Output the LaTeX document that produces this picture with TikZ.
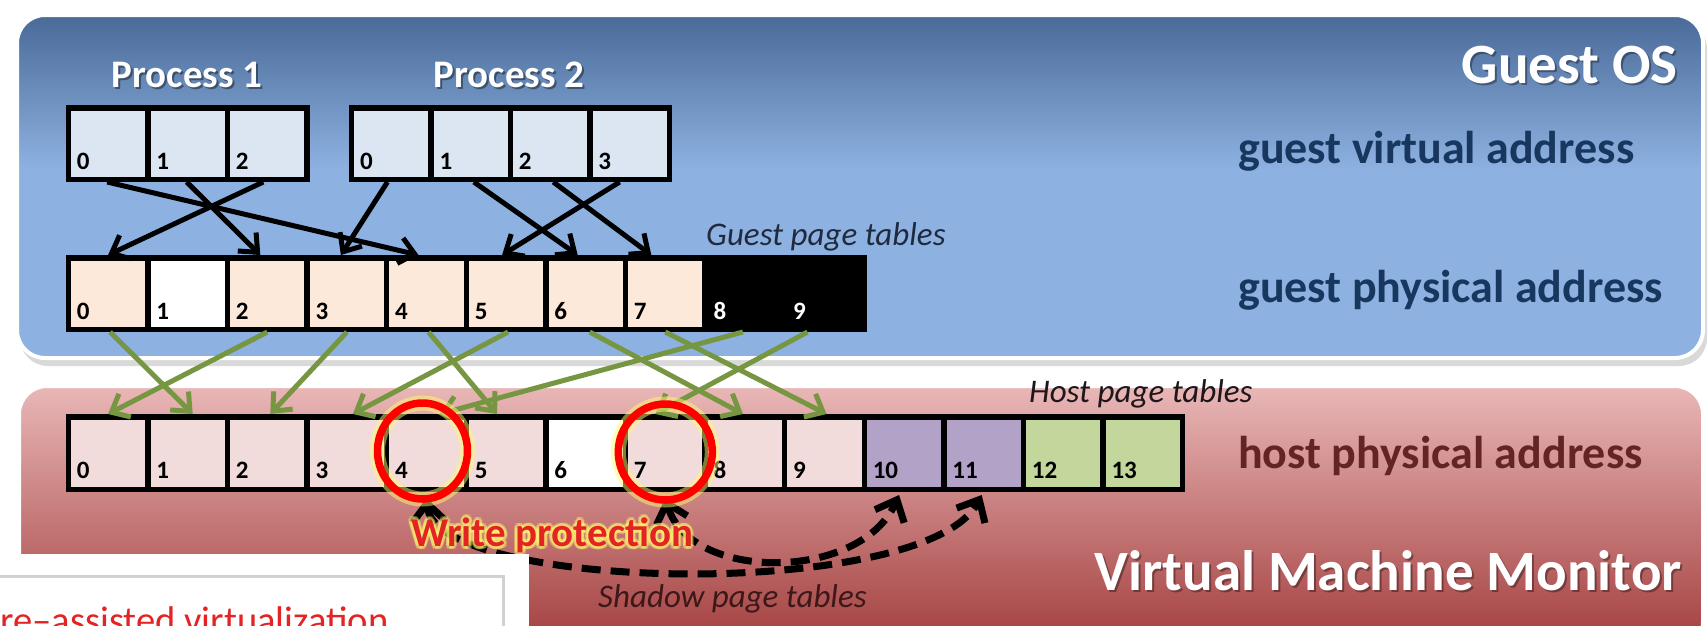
\documentclass[tikz,border=0pt]{standalone}
\usepackage{fontspec}
\setmainfont{Carlito}
\usetikzlibrary{arrows.meta}
\newcommand\myfs[1]{\fontsize{#1pt}{#1pt}\selectfont}
\definecolor{vcell}{RGB}{220,230,242}
\definecolor{gcell}{RGB}{253,233,217}
\definecolor{hcell}{RGB}{242,220,219}
\definecolor{hpurple}{RGB}{179,162,199}
\definecolor{hgreen}{RGB}{195,214,155}
\definecolor{arrgreen}{RGB}{118,150,66}
\definecolor{navytxt}{RGB}{23,55,94}
\definecolor{maroontxt}{RGB}{99,37,35}
\definecolor{bluedark}{RGB}{74,106,152}
\definecolor{bluelight}{RGB}{141,178,225}
\definecolor{pinktop}{RGB}{233,183,183}
\definecolor{pinkmid}{RGB}{218,150,150}
\definecolor{pinkbot}{RGB}{162,60,60}
\definecolor{redtxt}{RGB}{228,36,36}
\definecolor{glowyel}{RGB}{255,250,110}
\begin{document}
\begin{tikzpicture}[x=1pt,y=-1pt,
  cellbox/.style={draw=black,line width=5.5pt,minimum width=79.6pt,inner sep=0pt},
  num/.style={font=\bfseries\myfs{25},inner sep=0pt,anchor=base west},
  barrow/.style={line width=5pt,-{Straight Barb[length=15pt,width=26pt]}},
  garrow/.style={barrow,draw=arrgreen},
  darrow/.style={line width=7pt,dash pattern=on 19pt off 10pt,
     {Straight Barb[length=18pt,width=32pt]}-{Straight Barb[length=18pt,width=32pt]}},
  whitelbl/.style={inner sep=0pt,text=white,font=\bfseries\myfs{57}},
  shadowlbl/.style={inner sep=0pt,text=black,opacity=0.35,font=\bfseries\myfs{57}},
  proclbl/.style={inner sep=0pt,font=\bfseries\myfs{39},anchor=base},
  addrlbl/.style={inner sep=0pt,font=\bfseries\myfs{46},anchor=base west},
  itlbl/.style={inner sep=0pt,font=\itshape\myfs{33},anchor=base west},
  wplbl/.style={inner sep=0pt,font=\bfseries\myfs{41},anchor=base west},
  ringglow/.style={draw=glowyel,line width=15pt,opacity=0.5},
  ring/.style={draw=red,line width=7.5pt}
]
\useasboundingbox (0,0) rectangle (1708,625);
\clip (0,0) rectangle (1708,625);
\fill[white] (0,0) rectangle (1708,625);

% ---------- Guest OS panel ----------
\fill[black,opacity=0.15,rounded corners=28pt] (20,21) rectangle (1707,366);
\fill[bluelight,rounded corners=28pt] (17,15) rectangle (1703,358);
\begin{scope}
  \clip[rounded corners=28pt] (17,15) rectangle (1703,358);
  \shade[top color=bluedark,bottom color=bluelight] (17,15) rectangle (1703,170);
\end{scope}
\draw[white,line width=4pt,rounded corners=28pt] (17,15) rectangle (1703,358);

% ---------- VMM panel ----------
\shade[top color=pinktop,middle color=pinkmid,bottom color=pinkbot,rounded corners=28pt]
  (19,386) rectangle (1703,650);
\draw[white,line width=4pt,rounded corners=28pt] (19,386) rectangle (1703,650);

% ---------- rows ----------
\foreach \i in {0,1,2}
  \node[cellbox,fill=vcell,minimum height=71.5pt] (p1c\i) at ({68.3+(\i+0.5)*79.6},143.5) {};
\foreach \i in {0,1,2}
  \node[num] (p1n\i) at ([shift={(11pt,13pt)}]p1c\i.south west) {\i};
\foreach \i in {0,1,2,3}
  \node[cellbox,fill=vcell,minimum height=71.5pt] (p2c\i) at ({351.75+(\i+0.5)*79.4},143.5) {};
\foreach \i in {0,1,2,3}
  \node[num] (p2n\i) at ([shift={(11pt,13pt)}]p2c\i.south west) {\i};

\foreach \i/\c in {0/gcell,1/white,2/gcell,3/gcell,4/gcell,5/gcell,6/gcell,7/gcell,8/black,9/black}
  \node[cellbox,fill=\c,minimum height=71.5pt] (g\i) at ({68.3+(\i+0.5)*79.6},293.5) {};
\foreach \i/\t in {0/black,1/black,2/black,3/black,4/black,5/black,6/black,7/black,8/white,9/white}
  \node[num,text=\t] (gn\i) at ([shift={(11pt,13pt)}]g\i.south west) {\i};

\foreach \i/\c in {0/hcell,1/hcell,2/hcell,3/hcell,4/hcell,5/hcell,6/white,7/hcell,
                   8/hcell,9/hcell,10/hpurple,11/hpurple,12/hgreen,13/hgreen}
  \node[cellbox,fill=\c,minimum height=72.5pt] (h\i) at ({68.3+(\i+0.5)*79.6},453) {};
\foreach \i in {0,...,13}
  \node[num] (hn\i) at ([shift={(11pt,13.5pt)}]h\i.south west) {\i};

% ---------- guest page tables (black) ----------
\draw[barrow] ([xshift=-1pt]p1c0.south) -- ([xshift=-8pt]g4.north);
\draw[barrow] ([xshift=-1pt]p1c1.south) -- ([xshift=-7pt]g2.north);
\draw[barrow] ([xshift=-4pt]p1c2.south) -- (g0.north);
\draw[barrow] ([xshift=-4pt]p2c0.south) -- ([xshift=-6pt]g3.north);
\draw[barrow] ([xshift=3pt]p2c1.south) -- ([xshift=-8pt]g6.north);
\draw[barrow] ([xshift=3pt]p2c2.south) -- ([xshift=-14pt]g7.north);
\draw[barrow] ([xshift=-10pt]p2c3.south) -- ([xshift=-4pt]g5.north);

% ---------- host page tables (green) ----------
\draw[garrow] ([xshift=2pt]g0.south) -- ([xshift=5pt]h1.north);
\draw[garrow] (g2.south) -- (h0.north);
\draw[garrow] (g3.south) -- ([xshift=3pt]h2.north);
\draw[garrow] ([xshift=2pt]g4.south) -- ([xshift=-9pt]h5.north);
\draw[garrow] ([xshift=2pt]g5.south) -- ([xshift=6pt]h3.north);
\draw[garrow] ([xshift=4pt]g6.south) -- ([xshift=-2pt]h8.north);
\draw[garrow] (g7.south) -- ([xshift=2pt]h9.north);
\draw[garrow] ([xshift=-2pt]g8.south) -- ([xshift=13pt]h4.north);
\draw[garrow] ([xshift=-17pt]g9.south) -- ([xshift=-10pt]h7.north);

% ---------- shadow page tables (dashed) ----------
\draw[darrow] ([yshift=-6pt]h4.south) .. controls (435,592) and (925,602) .. ([xshift=-2pt,yshift=-3pt]h11.south);
\draw[darrow] ([yshift=-6pt]h7.south) .. controls (690,582) and (860,582) .. ([xshift=-5pt,yshift=-3pt]h10.south);

% ---------- write protection rings ----------
\draw[ringglow] ([xshift=-4pt,yshift=2pt]h4.center) ellipse [x radius=45pt,y radius=48pt];
\draw[ringglow] ([yshift=1pt]h7.center) ellipse [x radius=47pt,y radius=48pt];
\draw[ring] ([xshift=-4pt,yshift=2pt]h4.center) ellipse [x radius=45pt,y radius=48pt];
\draw[ring] ([yshift=1pt]h7.center) ellipse [x radius=47pt,y radius=48pt];

% ---------- labels ----------
\node[proclbl,text=black,opacity=0.4] (proc1s) at (189,89) {Process 1};
\node[proclbl,text=white] (proc1) at (187,87) {Process 1};
\node[proclbl,text=black,opacity=0.4] (proc2s) at (511,89) {Process 2};
\node[proclbl,text=white] (proc2) at (509,87) {Process 2};

\node[shadowlbl,anchor=base east] (gosS) at (1680,85) {Guest OS};
\node[whitelbl,anchor=base east] (gos) at (1678,83) {Guest OS};
\node[shadowlbl,anchor=base east] (vmmS) at (1684,592) {Virtual Machine Monitor};
\node[whitelbl,anchor=base east] (vmm) at (1682,590) {Virtual Machine Monitor};

\node[addrlbl,text=navytxt] (gva) at (1238,163) {guest virtual address};
\node[addrlbl,text=navytxt] (gpa) at (1238,302) {guest physical address};
\node[addrlbl,text=maroontxt] (hpa) at (1238,468) {host physical address};

\node[itlbl,text={rgb,255:red,32;green,42;blue,62}] (gpt) at (706,245) {Guest page tables};
\node[itlbl,text={rgb,255:red,30;green,22;blue,26}] (hpt) at (1029,402) {Host page tables};
\node[itlbl,text={rgb,255:red,60;green,24;blue,24}] (spt) at (598,607) {Shadow page tables};

\foreach \a in {0,30,...,330}
  \node[wplbl,text=glowyel,opacity=0.3] (wpg\a) at ([shift={(\a:3pt)}]411,546.5) {Write protection};
\node[wplbl,text=redtxt] (wp) at (411,546.5) {Write protection};

% ---------- bottom-left box ----------
\fill[white] (-5,554) rectangle (529,640);
\draw[black!18,line width=3pt] (-5,576) rectangle (503,640);
\node[inner sep=0pt,anchor=base west,text=redtxt,font=\myfs{38.6}] (hwv) at (0,633) {re–assisted virtualization};
\end{tikzpicture}
\end{document}
